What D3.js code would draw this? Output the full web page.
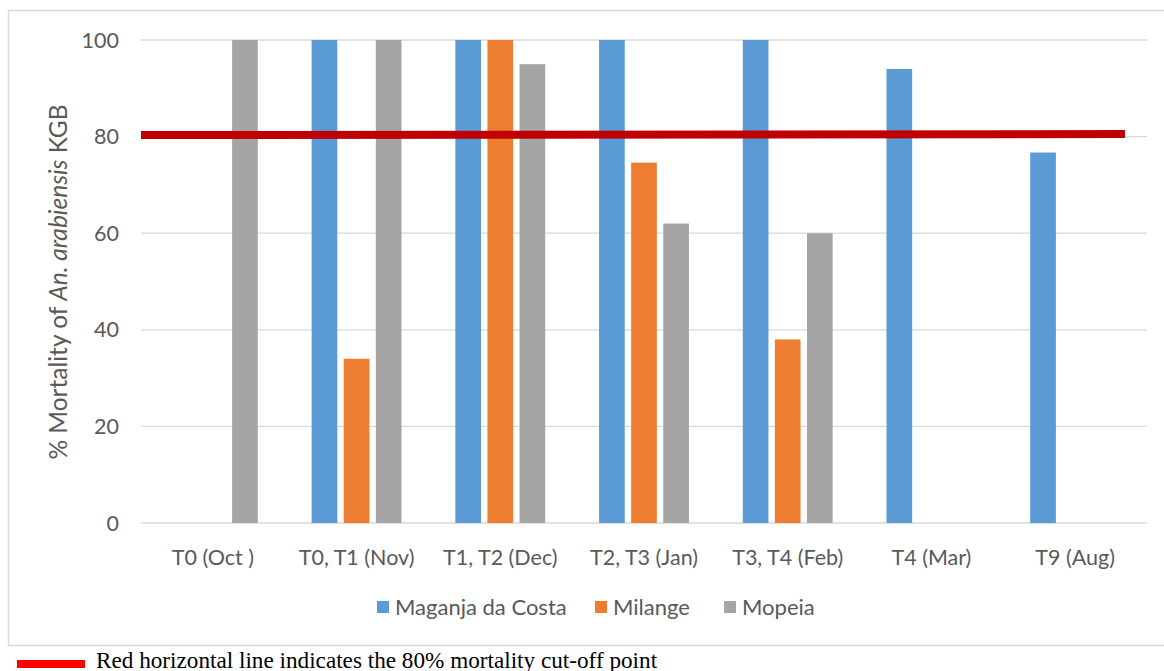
<!DOCTYPE html>
<html>
<head>
<meta charset="utf-8">
<script src="https://cdn.jsdelivr.net/npm/d3@7"></script>
<style>
  html, body { margin: 0; padding: 0; background: #fff; }
  svg { display: block; }
</style>
</head>
<body>
<svg id="chart" width="1164" height="671"></svg>
<script>
// Survey rounds and districts
const categories = ["T0 (Oct )", "T0, T1 (Nov)", "T1, T2 (Dec)", "T2, T3 (Jan)", "T3, T4 (Feb)", "T4 (Mar)", "T9 (Aug)"];
const seriesNames = ["Maganja da Costa", "Milange", "Mopeia"];
const seriesColors = ["#5b9bd5", "#ed7d31", "#a5a5a5"];
// % mortality per round (null = not tested)
const maganja = [null, 100, 100, 100, 100, 94, 76.7];
const milange = [null, 34, 100, 74.6, 38, null, null];
const mopeia  = [100, 100, 95, 62, 60, null, null];
const yTicks = [0, 20, 40, 60, 80, 100];
const cutoff = 80;

const seriesValues = [maganja, milange, mopeia];
const svg = d3.select("#chart");
const font = "Lato, 'Open Sans', sans-serif";
const textGray = "#595959";
const labelSize = 21.5;

// chart frame
svg.append("rect")
  .attr("x", 8.5).attr("y", 10.5)
  .attr("width", 1170).attr("height", 635)
  .attr("fill", "#fff").attr("stroke", "#d9d9d9").attr("stroke-width", 1.5);

const plot = { left: 141, right: 1147, top: 40, bottom: 523 };

const y = d3.scaleLinear().domain([0, 100]).range([plot.bottom, plot.top]);
const x0 = d3.scaleBand().domain(categories)
  .range([plot.left, plot.right]).paddingInner(0.33).paddingOuter(0.165);
const x1 = d3.scaleBand().domain(seriesNames)
  .range([0, x0.bandwidth()]).paddingInner(0.2).paddingOuter(0.1);

// horizontal gridlines
svg.append("g").selectAll("line").data(yTicks).join("line")
  .attr("x1", plot.left).attr("x2", plot.right)
  .attr("y1", d => y(d)).attr("y2", d => y(d))
  .attr("stroke", "#d9d9d9").attr("stroke-width", 1.3);

// y axis tick labels
const yAxis = d3.axisLeft(y).tickValues(yTicks).tickSize(0).tickPadding(0);
const gy = svg.append("g").attr("transform", `translate(${plot.left - 22},0)`).call(yAxis);
gy.select(".domain").remove();
gy.selectAll("text")
  .attr("font-family", font).attr("font-size", labelSize).attr("fill", textGray)
  .attr("dy", "0.33em");

// bars
const rows = categories.map((c, i) => ({ cat: c, vals: seriesNames.map((s, j) => ({ s, j, v: seriesValues[j][i] })) }));
svg.append("g").selectAll("g").data(rows).join("g")
  .attr("transform", d => `translate(${x0(d.cat)},0)`)
  .selectAll("rect").data(d => d.vals.filter(e => e.v != null)).join("rect")
  .attr("x", d => x1(d.s))
  .attr("width", x1.bandwidth())
  .attr("y", d => y(d.v))
  .attr("height", d => y(0) - y(d.v))
  .attr("fill", d => seriesColors[d.j]);

// x axis category labels
const xAxis = d3.axisBottom(x0).tickSize(0).tickPadding(0);
const gx = svg.append("g").attr("transform", `translate(0,565)`).call(xAxis);
gx.select(".domain").remove();
gx.selectAll("text")
  .attr("font-family", font).attr("font-size", labelSize).attr("fill", textGray)
  .attr("y", 0).attr("dy", 0);

// 80% cut-off line
svg.append("line")
  .attr("x1", plot.left).attr("x2", 1125)
  .attr("y1", y(cutoff) - 1.5).attr("y2", y(cutoff) - 2.5)
  .attr("stroke", "#c00000").attr("stroke-width", 8);

// y axis title
const title = svg.append("text")
  .attr("transform", `translate(67,282) rotate(-90)`)
  .attr("text-anchor", "middle")
  .attr("font-family", font).attr("font-size", 24.5).attr("fill", textGray);
title.append("tspan").text("% Mortality of ");
title.append("tspan").attr("font-style", "italic").text("An. arabiensis");
title.append("tspan").text(" KGB");

// legend
const legendX = [377, 595, 724];
const lg = svg.append("g").selectAll("g").data(seriesNames).join("g")
  .attr("transform", (d, i) => `translate(${legendX[i]},601)`);
lg.append("rect").attr("width", 12).attr("height", 12)
  .attr("fill", (d, i) => seriesColors[i]);
lg.append("text").attr("x", 18).attr("y", 14)
  .attr("font-family", font).attr("font-size", 22).attr("fill", textGray)
  .text(d => d);

// caption below the chart
svg.append("rect").attr("x", 17).attr("y", 660).attr("width", 68).attr("height", 8).attr("fill", "#ff0000");
svg.append("text").attr("x", 96).attr("y", 668)
  .attr("font-family", "'Liberation Serif', 'DejaVu Serif', serif").attr("font-size", 23.2).attr("fill", "#000")
  .text("Red horizontal line indicates the 80% mortality cut-off point");
</script>
</body>
</html>
